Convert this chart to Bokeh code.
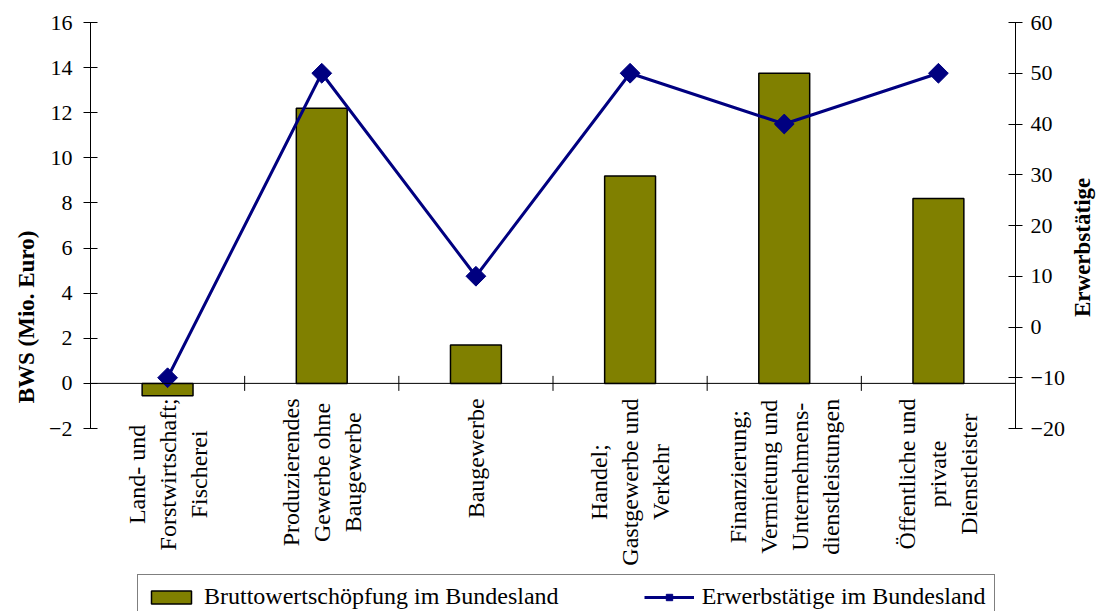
from math import pi

from bokeh.plotting import figure
from bokeh.models import (Range1d, LinearAxis, FixedTicker, Legend, LegendItem,
                          Span, ColumnDataSource)
from bokeh.embed import file_html
from bokeh.resources import INLINE

# Sector names (category labels, one list entry per printed line)
sectors = [
    ["Land- und", "Forstwirtschaft;", "Fischerei"],
    ["Produzierendes", "Gewerbe ohne", "Baugewerbe"],
    ["Baugewerbe"],
    ["Handel;", "Gastgewerbe und", "Verkehr"],
    ["Finanzierung;", "Vermietung und", "Unternehmens-", "dienstleistungen"],
    ["Öffentliche und", "private", "Dienstleister"],
]
# Gross value added (Mio. Euro), left axis
bws = [-0.55, 12.2, 1.7, 9.2, 13.75, 8.2]
# Employed persons, right axis
erwerbstaetige = [-10, 50, 10, 50, 40, 50]

bws_ticks = list(range(-2, 17, 2))
erw_ticks = list(range(-20, 61, 10))

FONT = "Liberation Serif"
OLIVE = "#808000"
NAVY = "#000080"

# Times-style advance widths (1/1000 em) used to centre the rotated label lines
_W = dict(zip("abcdefghijklmnopqrstuvwxyz",
              [444, 500, 444, 500, 444, 333, 500, 500, 278, 278, 500, 278, 778,
               500, 500, 500, 500, 333, 389, 278, 500, 500, 722, 500, 500, 444]))
_W.update({"B": 667, "D": 722, "E": 611, "F": 556, "G": 722, "H": 722,
           "L": 611, "P": 556, "U": 722, "V": 722, "Ö": 722, " ": 250,
           "-": 333, ";": 278, "ä": 444, "ö": 500})


def text_width(s, size):
    return sum(_W.get(c, 500) for c in s) * size / 1000.0


n = len(sectors)
xs = [i + 0.5 for i in range(n)]
src = ColumnDataSource(dict(x=xs, bws=bws, erw=erwerbstaetige))

# plot area: 611 px tall, value axes cover the top 406 px (-2 .. 16)
FRAME_H = 589
AXIS_H = 406
y_lo, y_hi = bws_ticks[0], bws_ticks[-1]
y_start = y_hi - (y_hi - y_lo) * FRAME_H / AXIS_H
r_lo, r_hi = erw_ticks[0], erw_ticks[-1]
to_r = lambda v: r_lo + (v - y_lo) * (r_hi - r_lo) / (y_hi - y_lo)

p = figure(width=1110, height=611, x_range=Range1d(0, n),
           y_range=Range1d(y_start, y_hi), x_axis_location=None,
           output_backend="svg", toolbar_location=None,
           min_border_left=90, min_border_right=82, min_border_top=22,
           min_border_bottom=0)
p.extra_y_ranges = {"erw": Range1d(to_r(y_start), r_hi)}

p.outline_line_color = None
p.grid.grid_line_color = None


def style_value_axis(ax, label):
    ax.axis_label = label
    ax.axis_label_text_font = FONT
    ax.axis_label_text_font_style = "bold"
    ax.axis_label_text_font_size = "23px"
    ax.axis_label_text_color = "black"
    ax.major_label_text_font = FONT
    ax.major_label_text_font_size = "22px"
    ax.major_label_text_color = "black"
    ax.major_tick_in = 7
    ax.major_tick_out = 7
    ax.minor_tick_line_color = None
    ax.axis_line_color = "black"
    ax.major_tick_line_color = "black"


ly = p.yaxis[0]
ly.ticker = FixedTicker(ticks=bws_ticks)
ly.bounds = (y_lo, y_hi)
style_value_axis(ly, "BWS (Mio. Euro)")
ly.major_label_standoff = 11
ly.axis_label_standoff = 7

ry = LinearAxis(y_range_name="erw", ticker=FixedTicker(ticks=erw_ticks),
                bounds=(r_lo, r_hi))
style_value_axis(ry, "Erwerbstätige")
ry.major_label_standoff = 8
ry.axis_label_standoff = 15
ry.axis_label_orientation = pi / 2   # read bottom-to-top like the left title
p.add_layout(ry, "right")

# category axis at zero, tick marks between the sectors
p.add_layout(Span(location=0, dimension="width", line_color="black", line_width=1))
p.scatter(x=list(range(1, n)), y=[0] * (n - 1), marker="dash", angle=pi / 2,
          size=15, line_color="black", line_width=1)

# rotated, centred category labels below the zero line
LBL_SIZE = 24
LINE_STEP = 31
lx, ltxt, lxo, lyo = [], [], [], []
for x, lines in zip(xs, sectors):
    block = max(text_width(s, LBL_SIZE) for s in lines)
    k = len(lines)
    for j, s in enumerate(lines):
        lx.append(x)
        ltxt.append(s)
        lxo.append((j - (k - 1) / 2) * LINE_STEP)
        lyo.append(15 + block / 2)
p.text(x=lx, y=[0] * len(lx), text=ltxt, x_offset=lxo, y_offset=lyo,
       angle=pi / 2, text_align="center", text_baseline="middle",
       text_font=FONT, text_font_size=f"{LBL_SIZE}px", text_color="black")

bars = p.vbar(x="x", top="bws", bottom=0, width=0.33, source=src,
              fill_color=OLIVE, line_color="black", line_width=1.5)
line = p.line(x="x", y="erw", source=src, y_range_name="erw",
              line_color=NAVY, line_width=3)
marks = p.scatter(x="x", y="erw", source=src, y_range_name="erw",
                  marker="square", angle=pi / 4, size=14,
                  fill_color=NAVY, line_color=NAVY)

legend = Legend(items=[
    LegendItem(label="Bruttowertschöpfung im Bundesland", renderers=[bars]),
    LegendItem(label="Erwerbstätige im Bundesland", renderers=[line, marks]),
], orientation="horizontal", location=(47, -8))
legend.label_text_font = FONT
legend.label_text_font_size = "24px"
legend.label_text_color = "black"
legend.glyph_width = 50
legend.glyph_height = 16
legend.spacing = 85
legend.padding = 8
legend.label_standoff = 8
legend.border_line_color = "black"
legend.border_line_width = 1
legend.margin = 0
legend.background_fill_alpha = 1
p.add_layout(legend)

open("out.html", "w").write(file_html(p, INLINE))
